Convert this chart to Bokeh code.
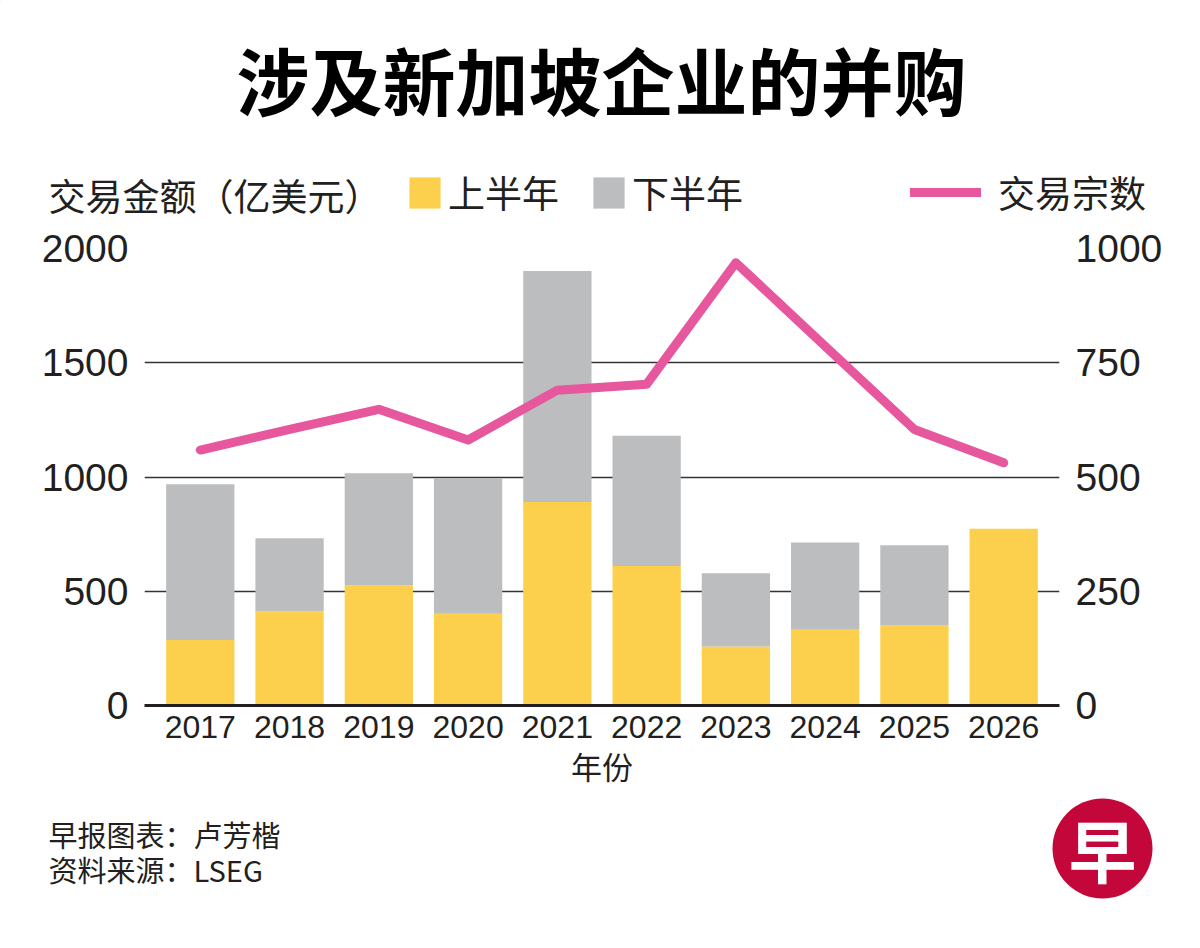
from bokeh.plotting import figure
from bokeh.layouts import column
from bokeh.models import (Range1d, FactorRange, LinearAxis, FixedTicker, Label,
                          Legend, LegendItem, ColumnDataSource)
from bokeh.embed import file_html
from bokeh.resources import INLINE

# ---- data ----
years = ["2017", "2018", "2019", "2020", "2021", "2022", "2023", "2024", "2025", "2026"]
first_half = [287, 411, 525, 401, 891, 611, 258, 331, 350, 774]      # 上半年, 亿美元
second_half = [681, 321, 491, 595, 1011, 570, 321, 382, 351, 0]      # 下半年, 亿美元
deal_counts = [559, 604, 648, 581, 690, 703, 969, 786, 604, 531]     # 交易宗数
left_ticks = [0, 500, 1000, 1500, 2000]
right_ticks = [0, 250, 500, 750, 1000]

title_text = "涉及新加坡企业的并购"
left_axis_title = "交易金额（亿美元）"
series_names = ["上半年", "下半年", "交易宗数"]
x_title = "年份"
credit = "早报图表：卢芳楷"
source_note = "资料来源：LSEG"

YELLOW = "#fcd04c"
GREY = "#bcbdbf"
PINK = "#e6579e"
INK = "#231f20"
CJK = "Noto Sans CJK SC"
NUM = "Liberation Sans"
W = 1184

# ---------------- header: title + legend ----------------
HH = 228
hp = figure(width=W, height=HH, x_range=Range1d(0, W), y_range=Range1d(HH, 0),
            x_axis_type=None, y_axis_type=None, min_border=0, frame_align=False,
            outline_line_color=None, toolbar_location=None, output_backend="svg")
hp.grid.visible = False
hp.add_layout(Label(x=601, y=77, text=title_text, text_align="center",
                    text_baseline="middle", text_font=CJK, text_font_size="73px",
                    text_font_style="bold", text_color="black"))
hp.add_layout(Label(x=48, y=194, text=left_axis_title, text_align="left",
                    text_baseline="middle", text_font=CJK, text_font_size="37px",
                    text_color=INK))

# legend key proxies (one point each, placed off the visible canvas)
k_y = hp.vbar(x=[-500], top=[1], width=1, fill_color=YELLOW, line_color=None)
k_g = hp.vbar(x=[-500], top=[1], width=1, fill_color=GREY, line_color=None)
k_l = hp.line(x=[-500, -499], y=[1, 1], line_color=PINK, line_width=9, line_cap="round")

common = dict(orientation="horizontal", padding=0, margin=0, border_line_color=None,
              background_fill_alpha=0, label_text_font=CJK, label_text_font_size="37px",
              label_text_color=INK, label_text_baseline="middle")
leg1 = Legend(items=[LegendItem(label=series_names[0], renderers=[k_y]),
                     LegendItem(label=series_names[1], renderers=[k_g])],
              glyph_width=39, glyph_height=39, label_standoff=4, spacing=30,
              location=(405, 9), **common)
leg2 = Legend(items=[LegendItem(label=series_names[2], renderers=[k_l])],
              glyph_width=71, glyph_height=32, label_standoff=17,
              location=(910, 9), **common)
hp.add_layout(leg1, "center")
hp.add_layout(leg2, "center")

# ---------------- main chart ----------------
src = ColumnDataSource(dict(year=years, h1=first_half, h2=second_half))
MH = 564
p = figure(width=W, height=MH,
           x_range=FactorRange(factors=years, range_padding=0.025),
           y_range=Range1d(0, 2000),
           output_backend="svg", toolbar_location=None,
           min_border_left=144, min_border_right=125,
           min_border_top=20, min_border_bottom=87,
           outline_line_color=None)
p.extra_y_ranges = {"count": Range1d(0, 1000)}

p.xgrid.visible = False
p.ygrid.ticker = FixedTicker(ticks=left_ticks)
p.ygrid.grid_line_color = "#333333"
p.ygrid.grid_line_width = 1.5

bars = p.vbar_stack(["h1", "h2"], x="year", width=0.765, source=src,
                    fill_color=[YELLOW, GREY], line_color=None)
ln = p.line(years, deal_counts, y_range_name="count", line_color=PINK,
            line_width=9, line_join="round", line_cap="round")

ya = p.yaxis[0]
ya.ticker = FixedTicker(ticks=left_ticks)
ra = LinearAxis(y_range_name="count", ticker=FixedTicker(ticks=right_ticks))
p.add_layout(ra, "right")
for ax in (ya, ra):
    ax.axis_line_color = None
    ax.major_tick_line_color = None
    ax.minor_tick_line_color = None
    ax.major_label_text_font = NUM
    ax.major_label_text_font_size = "39px"
    ax.major_label_text_color = INK
    ax.major_label_standoff = 10

xa = p.xaxis[0]
xa.axis_line_color = INK
xa.axis_line_width = 3
xa.major_tick_line_color = None
xa.minor_tick_line_color = None
xa.major_label_text_font = NUM
xa.major_label_text_font_size = "32px"
xa.major_label_text_color = INK
xa.major_label_standoff = 4
xa.axis_label = x_title
xa.axis_label_text_font = CJK
xa.axis_label_text_font_size = "31px"
xa.axis_label_text_font_style = "normal"
xa.axis_label_text_color = INK
xa.axis_label_standoff = 2

# ---------------- footer: credits + logo ----------------
FH = 932 - HH - MH
fp = figure(width=W, height=FH, x_range=Range1d(0, W), y_range=Range1d(FH, 0),
            x_axis_type=None, y_axis_type=None, min_border=0, frame_align=False,
            outline_line_color=None, toolbar_location=None, output_backend="svg")
fp.grid.visible = False
fp.add_layout(Label(x=48, y=41, text=credit, text_align="left", text_baseline="middle",
                    text_font=CJK, text_font_size="29px", text_color=INK))
fp.add_layout(Label(x=48, y=76, text=source_note, text_align="left", text_baseline="middle",
                    text_font=CJK, text_font_size="29px", text_color=INK))
fp.scatter(x=[1102], y=[56], marker="circle", size=100, fill_color="#c4073a",
           line_color=None)
fp.add_layout(Label(x=1102, y=56, text="早", text_align="center", text_baseline="middle",
                    text_font=CJK, text_font_size="68px", text_font_style="bold",
                    text_color="white"))

layout = column(hp, p, fp, spacing=0)
open("out.html", "w").write(file_html(layout, INLINE))
